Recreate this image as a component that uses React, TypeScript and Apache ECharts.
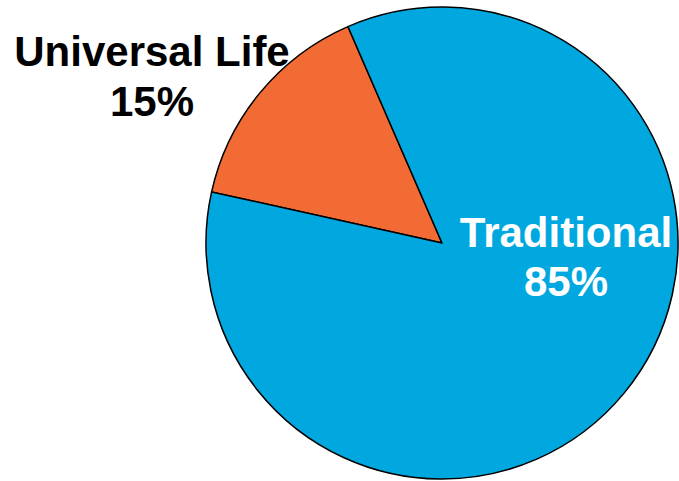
import React, { useEffect, useRef } from "react";
import * as echarts from "echarts";

const categories = ["Universal Life", "Traditional"];
const values = [15, 85];
const colors = ["#F26B34", "#00A8DF"];

export default function App() {
  const ref = useRef<HTMLDivElement>(null);
  useEffect(() => {
    if (!ref.current) return;
    const chart = echarts.init(ref.current, undefined, { renderer: "svg" });
    const font = '"Liberation Sans", Arial, sans-serif';
    const labelText = (i: number) => [categories[i], values[i] + "%"];
    const ul = labelText(0);
    const tr = labelText(1);
    const mk = (text: string, x: number, y: number, fill: string) => ({
      type: "text",
      x,
      y,
      silent: true,
      z: 10,
      style: {
        text,
        fill,
        font: `bold 42px ${font}`,
        textAlign: "center",
        textVerticalAlign: "middle",
        verticalAlign: "middle",
      },
    });
    chart.setOption({
      animation: false,
      backgroundColor: "#ffffff",
      series: [
        {
          type: "pie",
          center: [442, 243],
          radius: 236,
          startAngle: 167.5,
          clockwise: true,
          label: { show: false },
          labelLine: { show: false },
          emphasis: { disabled: true },
          itemStyle: { borderColor: "#000000", borderWidth: 1.5 },
          data: categories.map((name, i) => ({
            name,
            value: values[i],
            itemStyle: { color: colors[i] },
          })),
        },
      ],
      graphic: [
        mk(ul[0], 152, 51, "#000000"),
        mk(ul[1], 152, 101, "#000000"),
        mk(tr[0], 566, 232, "#ffffff"),
        mk(tr[1], 566, 281, "#ffffff"),
      ],
    });
    return () => chart.dispose();
  }, []);
  return (
    <div
      ref={ref}
      style={{ position: "fixed", left: 0, top: 0, width: 679, height: 481 }}
    />
  );
}
